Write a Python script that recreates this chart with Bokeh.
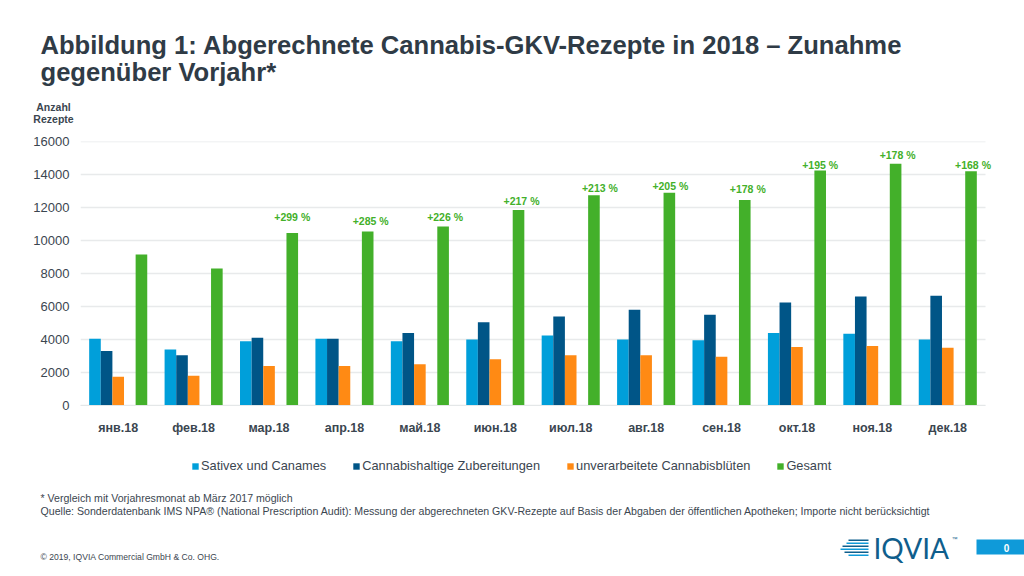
from bokeh.embed import file_html
from bokeh.resources import INLINE
from bokeh.plotting import figure
from bokeh.core.properties import value
from bokeh.layouts import column
from bokeh.models import (ColumnDataSource, Range1d, LabelSet, Label, Legend, LegendItem,
                          BoxAnnotation, FixedTicker)
from bokeh.transform import dodge

months = ["янв.18", "фев.18", "мар.18", "апр.18", "май.18", "июн.18", "июл.18", "авг.18", "сен.18", "окт.18", "ноя.18", "дек.18"]
sativex = [4050, 3400, 3900, 4050, 3900, 4000, 4250, 4000, 3950, 4400, 4350, 4000]
zubereitungen = [3300, 3050, 4100, 4050, 4400, 5050, 5400, 5800, 5500, 6250, 6600, 6650]
blueten = [1750, 1800, 2400, 2400, 2500, 2800, 3050, 3050, 2950, 3550, 3600, 3500]
gesamt = [9150, 8300, 10450, 10550, 10850, 11850, 12750, 12900, 12450, 14250, 14650, 14200]
pct_labels = ["+299 %", "+285 %", "+226 %", "+217 %", "+213 %", "+205 %", "+178 %", "+195 %", "+178 %", "+168 %"]
pct_y = [11394, 11212, 11394, 12424, 13212, 13333, 13091, 14606, 15152, 14606]
pct_dx = [0, 3, 2, 3, 6, 1, 3, 0, 2, 2]
y_ticks = [0, 2000, 4000, 6000, 8000, 10000, 12000, 14000, 16000]
series_names = ["Sativex und Canames", "Cannabishaltige Zubereitungen", "unverarbeitete Cannabisblüten", "Gesamt"]
colors = ["#009FDA", "#005587", "#FF8A14", "#43B02A"]
title_lines = ["Abbildung 1: Abgerechnete Cannabis-GKV-Rezepte in 2018 – Zunahme", "gegenüber Vorjahr*"]

W = 1024
HEAD_H, CHART_H, FOOT_H = 135, 312, 129
TXT = "#3B4650"
FONT = "Liberation Sans"
GROUP_PX = 905 / 12
pos = [i + 0.5 for i in range(len(months))]


def panel(h):
    f = figure(width=W, height=h, output_backend="svg", toolbar_location=None, x_range=(0, W), y_range=(0, h),
               x_axis_location=None, y_axis_location=None, min_border=0, outline_line_color=None, frame_align=False)
    f.grid.visible = False
    return f


def text(f, top, s, rx, ry, size, color=TXT, style="normal", align="left", font=FONT):
    f.add_layout(Label(x=rx, y=ry - top, x_units="canvas", y_units="canvas", text=s, text_font=font,
                       text_font_size=size, text_color=color, text_font_style=style,
                       text_align=align, text_baseline="middle"))


def box(f, top, x0, x1, y0, y1, color):
    f.add_layout(BoxAnnotation(left=x0, right=x1, top=y0 - top, bottom=y1 - top,
                               left_units="canvas", right_units="canvas", top_units="canvas", bottom_units="canvas",
                               fill_color=color, fill_alpha=1, line_color=None))


head = panel(HEAD_H)
text(head, 0, title_lines[0], 40, 44, "25.6px", style="bold", color="#2F3B46")
text(head, 0, title_lines[1], 40, 71, "25.6px", style="bold", color="#2F3B46")
text(head, 0, "Anzahl", 53, 106, "10.5px", style="bold", align="center")
text(head, 0, "Rezepte", 53, 118, "10.5px", style="bold", align="center")

p = figure(width=W, height=CHART_H, output_backend="svg", toolbar_location=None, frame_align=False,
           x_range=Range1d(0, 944 / GROUP_PX), y_range=Range1d(0, 16000),
           min_border_left=80, min_border_right=0, min_border_top=141 - HEAD_H,
           min_border_bottom=HEAD_H + CHART_H - 405, outline_line_color=None)

src = ColumnDataSource(dict(pos=pos, a=sativex, b=zubereitungen, c=blueten, d=gesamt))
slot = 0.154
p.segment(x0=[0] * len(y_ticks), x1=[len(months)] * len(y_ticks), y0=y_ticks, y1=y_ticks,
          line_color="#E8EAEB", line_width=1.5)
for col, off, color in zip("abcd", (-2, -1, 0, 2), colors):
    p.vbar(x=dodge("pos", off * slot, range=p.x_range), top=col, width=slot, bottom=0,
           source=src, color=color, line_color=None)

lab = ColumnDataSource(dict(pos=pos[2:], y=pct_y, text=pct_labels, dx=pct_dx))
p.add_layout(LabelSet(x=dodge("pos", 2 * slot, range=p.x_range), y="y", text="text", x_offset="dx", source=lab,
                      text_align="center", text_baseline="middle", text_color="#43B02A",
                      text_font=value(FONT), text_font_size="10.5px", text_font_style="bold"))

p.yaxis.ticker = FixedTicker(ticks=y_ticks)
p.yaxis.major_tick_line_color = None
p.yaxis.minor_tick_line_color = None
p.yaxis.axis_line_color = None
p.yaxis.major_label_text_font = FONT
p.yaxis.major_label_text_font_size = "13px"
p.yaxis.major_label_text_color = TXT
p.yaxis.major_label_standoff = 5
p.yaxis.formatter.use_scientific = False
p.xaxis.ticker = FixedTicker(ticks=pos)
p.xaxis.major_label_overrides = dict(zip(pos, months))
p.xaxis.bounds = (0, len(months))
p.xaxis.major_tick_line_color = None
p.xaxis.minor_tick_line_color = None
p.xaxis.axis_line_color = "#E4E7E8"
p.xaxis.major_label_text_font = FONT
p.xaxis.major_label_text_font_size = "12.5px"
p.xaxis.major_label_text_font_style = "bold"
p.xaxis.major_label_text_color = TXT
p.xaxis.major_label_standoff = 9
p.grid.visible = False

foot = panel(FOOT_H)
T = HEAD_H + CHART_H
swatches = [foot.vbar(x=[-100], top=[-100], bottom=[-101], width=1, color=c, line_color=None) for c in colors]
leg = Legend(items=[LegendItem(label=n, renderers=[r]) for n, r in zip(series_names, swatches)],
             orientation="horizontal", location=(191, FOOT_H - 26), border_line_color=None, background_fill_alpha=0,
             label_text_font=FONT, label_text_font_size="12.8px", label_text_color=TXT,
             glyph_width=8, glyph_height=8, spacing=26, label_standoff=2, padding=0, margin=0)
foot.add_layout(leg, "center")

text(foot, T, "* Vergleich mit Vorjahresmonat ab März 2017 möglich", 40, 497, "10.6px")
text(foot, T, "Quelle: Sonderdatenbank IMS NPA® (National Prescription Audit): Messung der abgerechneten GKV-Rezepte auf Basis der Abgaben der öffentlichen Apotheken; Importe nicht berücksichtigt", 40, 510, "10.6px")
text(foot, T, "© 2019, IQVIA Commercial GmbH & Co. OHG.", 40, 556, "8.6px")
text(foot, T, "IQVIA", 873, 547, "28px", color="#0F5E8C", font="Lato")
text(foot, T, "™", 951, 538, "6px", color="#0F5E8C")
box(foot, T, 976, 1024, 539, 554, "#0F9AD9")
text(foot, T, "0", 1006, 547, "10px", color="#FFFFFF", style="bold", align="center")
for yy, x0, c in [(539, 848, "#0F5E8C"), (542, 846, "#0F9AD9"), (545, 842, "#0F5E8C"), (548, 840, "#0F9AD9"), (551, 844, "#0F5E8C"), (554, 848, "#0F9AD9")]:
    box(foot, T, x0, 868, yy, yy + 1.5, c)

open("out.html", "w").write(file_html(column(head, p, foot, spacing=0), INLINE))
